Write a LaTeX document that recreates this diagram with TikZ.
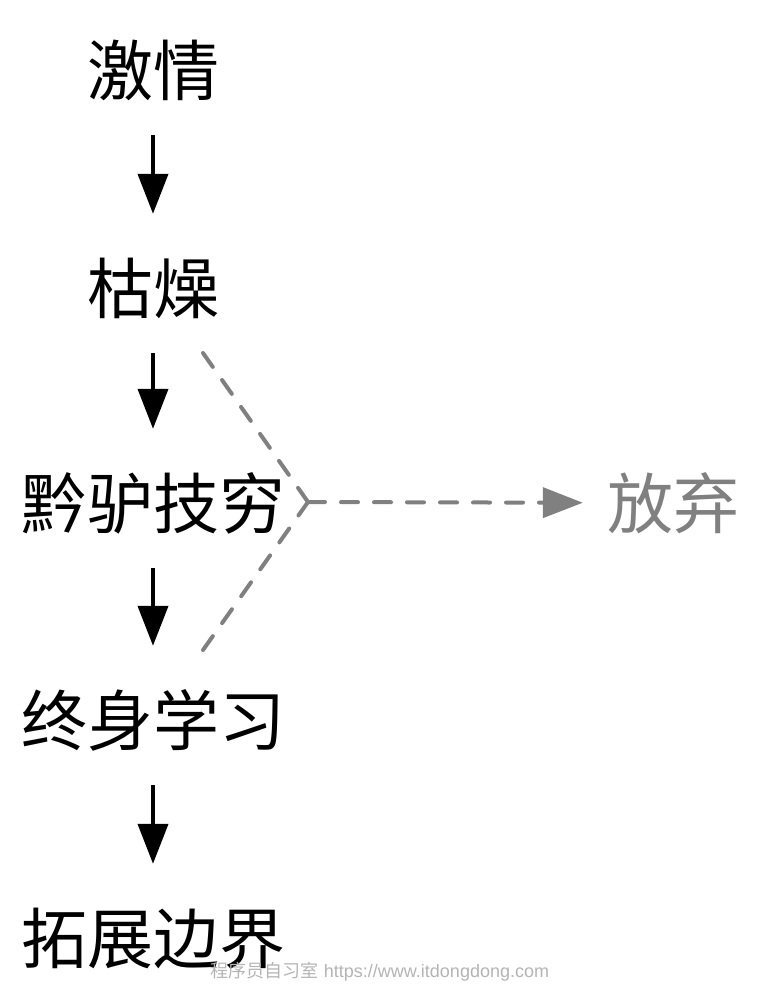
\documentclass[tikz,border=0pt]{standalone}
\usepackage{fontspec}
\setmainfont{Liberation Sans}
\newfontfamily\cjk{Noto Sans CJK SC}
\usetikzlibrary{arrows.meta}
\definecolor{dashgray}{HTML}{808080}
\definecolor{markgray}{HTML}{B4B4B4}
\tikzset{
  word/.style={font=\cjk\fontsize{66}{70}\selectfont, inner sep=0pt, text height=58pt, text depth=8pt, anchor=center},
  flow/.style={line width=4pt, draw=black, -{Triangle[width=30pt,length=40pt]}, shorten <=32pt, shorten >=41pt},
  giveup/.style={line width=4pt, draw=dashgray, dash pattern=on 17pt off 16pt, line cap=round},
}
\begin{document}
\begin{tikzpicture}[x=1pt,y=-1pt]
\useasboundingbox (0,0) rectangle (762,1004);
\node[word] (a) at (153,70) {激情};
\node[word] (b) at (153,288) {枯燥};
\node[word] (c) at (153,503) {黔驴技穷};
\node[word] (d) at (153,720) {终身学习};
\node[word] (e) at (153,938) {拓展边界};
\node[word, text=dashgray] (f) at (673,503) {放弃};
\draw[flow] (a) -- (b);
\draw[flow] (b) -- (c);
\draw[flow] (c) -- (d);
\draw[flow] (d) -- (e);
\coordinate (g1) at (203,353);
\coordinate (v) at (308,502);
\coordinate (g2) at (203,650);
\draw[giveup] (g1) -- (v);
\draw[giveup] (g2) -- (v);
\draw[giveup, -{Triangle[width=30pt,length=40pt]}, shorten >=24pt] (v) -- (f);
\node[text=markgray, font=\fontsize{18}{20}\selectfont, inner sep=0pt] (w) at (380,972) {{\cjk 程序员自习室} https://www.itdongdong.com};
\end{tikzpicture}
\end{document}
